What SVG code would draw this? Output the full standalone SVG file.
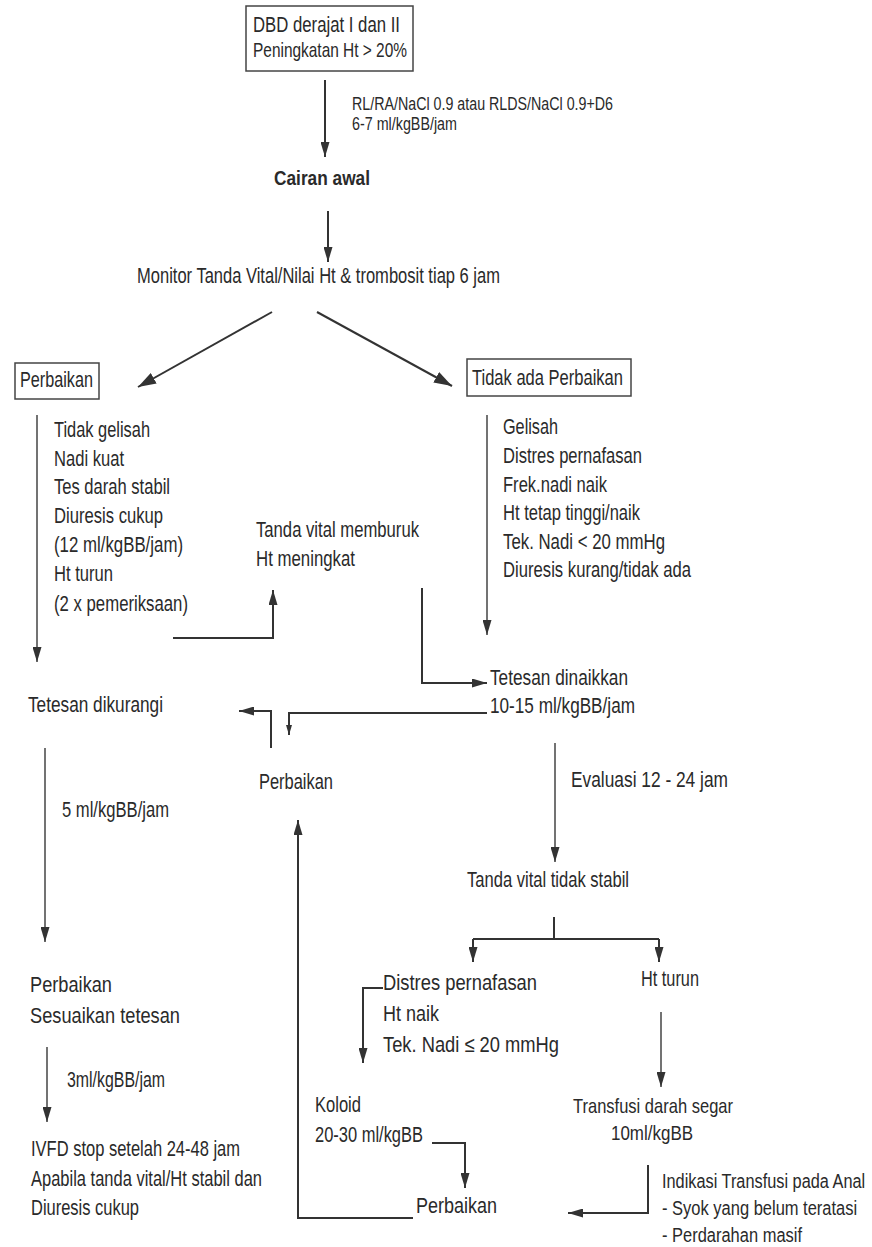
<svg xmlns="http://www.w3.org/2000/svg" width="872" height="1247" viewBox="0 0 872 1247">
  <style>
    text { font-family: "Liberation Sans Narrow", "Liberation Sans", Arial, sans-serif; font-size: 22px; fill: #2a2a2a; }
    .sm { font-size: 17.5px; }
    .md { font-size: 21px; }
    .b { font-weight: bold; font-size: 20px; }
    .box { fill: none; stroke: #444; stroke-width: 1.5; }
    .ln { fill: none; stroke: #333; stroke-width: 2; }
    .thin { fill: none; stroke: #444; stroke-width: 1.5; }
  </style>
  <defs>
    <marker id="ah" viewBox="0 0 15 9" refX="15" refY="4.5" markerWidth="15" markerHeight="9" markerUnits="userSpaceOnUse" orient="auto">
      <path d="M0,0 L15,4.5 L0,9 z" fill="#333"/>
    </marker>
    <marker id="ahb" viewBox="0 0 18 12" refX="18" refY="6" markerWidth="18" markerHeight="12" markerUnits="userSpaceOnUse" orient="auto">
      <path d="M0,0 L18,6 L0,12 z" fill="#333"/>
    </marker>
    <marker id="ahs" viewBox="0 0 10 6" refX="10" refY="3" markerWidth="10" markerHeight="6" markerUnits="userSpaceOnUse" orient="auto">
      <path d="M0,0 L10,3 L0,6 z" fill="#333"/>
    </marker>
  </defs>

  <!-- connectors -->
  <g id="connectors">
    <line class="ln" x1="325" y1="80" x2="325" y2="157" marker-end="url(#ah)"/>
    <line class="ln" x1="328" y1="211" x2="328" y2="262" marker-end="url(#ah)"/>
    <line class="ln" x1="272" y1="312" x2="138" y2="387" stroke-width="2.5" marker-end="url(#ahb)"/>
    <line class="ln" x1="317" y1="312" x2="452" y2="386" stroke-width="2.5" marker-end="url(#ahb)"/>
    <line class="thin" x1="37" y1="415" x2="37" y2="662" marker-end="url(#ah)"/>
    <line class="thin" x1="487" y1="415" x2="487" y2="635" marker-end="url(#ah)"/>
    <polyline class="ln" points="173,638 273,638 273,590" marker-end="url(#ah)"/>
    <polyline class="ln" points="422,588 422,683 487,683" marker-end="url(#ah)"/>
    <polyline class="ln" points="487,713 289,713 289,735" marker-end="url(#ahs)"/>
    <polyline class="ln" points="271,748 271,711 239,711" marker-end="url(#ah)"/>
    <line class="thin" x1="45" y1="748" x2="45" y2="942" marker-end="url(#ah)"/>
    <line class="thin" x1="47" y1="1047" x2="47" y2="1122" marker-end="url(#ah)"/>
    <line class="thin" x1="555" y1="743" x2="555" y2="862" marker-end="url(#ah)"/>
    <line class="ln" x1="554" y1="917" x2="554" y2="939"/>
    <line class="ln" x1="473" y1="939" x2="659" y2="939"/>
    <line class="ln" x1="473" y1="939" x2="473" y2="962" marker-end="url(#ah)"/>
    <line class="ln" x1="659" y1="939" x2="659" y2="962" marker-end="url(#ah)"/>
    <polyline class="ln" points="383,988 363,988 363,1063" marker-end="url(#ah)"/>
    <line class="thin" x1="661" y1="1012" x2="661" y2="1087" marker-end="url(#ah)"/>
    <polyline class="ln" points="432,1143 465,1143 465,1188" marker-end="url(#ah)"/>
    <polyline class="ln" points="413,1218 298,1218 298,820" marker-end="url(#ah)"/>
    <polyline class="ln" points="648,1165 648,1213 568,1213" marker-end="url(#ah)"/>
  </g>

  <!-- nodes -->
  <g id="start">
    <rect class="box" x="246" y="6" width="167" height="65"/>
    <text x="253" y="32" textLength="147" lengthAdjust="spacingAndGlyphs">DBD derajat I dan II</text>
    <text class="md" x="253" y="57" textLength="154" lengthAdjust="spacingAndGlyphs">Peningkatan Ht &gt; 20%</text>
  </g>
  <g id="fluid-label">
    <text class="sm" x="352" y="110" textLength="261" lengthAdjust="spacingAndGlyphs">RL/RA/NaCl 0.9 atau RLDS/NaCl 0.9+D6</text>
    <text class="sm" x="352" y="130" textLength="105" lengthAdjust="spacingAndGlyphs">6-7 ml/kgBB/jam</text>
  </g>
  <g id="cairan-awal">
    <text class="b" x="274" y="185" textLength="96" lengthAdjust="spacingAndGlyphs">Cairan awal</text>
  </g>
  <g id="monitor">
    <text x="137" y="283" textLength="363" lengthAdjust="spacingAndGlyphs">Monitor Tanda Vital/Nilai Ht &amp; trombosit tiap 6 jam</text>
  </g>
  <g id="perbaikan-box">
    <rect class="box" x="15" y="363" width="84" height="36"/>
    <text x="20" y="387" textLength="73" lengthAdjust="spacingAndGlyphs">Perbaikan</text>
  </g>
  <g id="tidak-ada-perbaikan-box">
    <rect class="box" x="467" y="359" width="164" height="37"/>
    <text x="472" y="385" textLength="151" lengthAdjust="spacingAndGlyphs">Tidak ada Perbaikan</text>
  </g>
  <g id="signs-improved">
    <text x="54" y="437" textLength="96" lengthAdjust="spacingAndGlyphs">Tidak gelisah</text>
    <text x="54" y="466" textLength="70" lengthAdjust="spacingAndGlyphs">Nadi kuat</text>
    <text x="54" y="494" textLength="116" lengthAdjust="spacingAndGlyphs">Tes darah stabil</text>
    <text x="54" y="523" textLength="109" lengthAdjust="spacingAndGlyphs">Diuresis cukup</text>
    <text x="54" y="552" textLength="129" lengthAdjust="spacingAndGlyphs">(12 ml/kgBB/jam)</text>
    <text x="54" y="581" textLength="59" lengthAdjust="spacingAndGlyphs">Ht turun</text>
    <text x="54" y="611" textLength="134" lengthAdjust="spacingAndGlyphs">(2 x pemeriksaan)</text>
  </g>
  <g id="worsening">
    <text x="256" y="537" textLength="163" lengthAdjust="spacingAndGlyphs">Tanda vital memburuk</text>
    <text x="256" y="566" textLength="99" lengthAdjust="spacingAndGlyphs">Ht meningkat</text>
  </g>
  <g id="signs-not-improved">
    <text x="503" y="434" textLength="55" lengthAdjust="spacingAndGlyphs">Gelisah</text>
    <text x="503" y="463" textLength="139" lengthAdjust="spacingAndGlyphs">Distres pernafasan</text>
    <text x="503" y="492" textLength="104" lengthAdjust="spacingAndGlyphs">Frek.nadi naik</text>
    <text x="503" y="520" textLength="137" lengthAdjust="spacingAndGlyphs">Ht tetap tinggi/naik</text>
    <text x="503" y="549" textLength="162" lengthAdjust="spacingAndGlyphs">Tek. Nadi &lt; 20 mmHg</text>
    <text x="503" y="577" textLength="188" lengthAdjust="spacingAndGlyphs">Diuresis kurang/tidak ada</text>
  </g>
  <g id="tetesan-dinaikkan">
    <text x="490" y="685" textLength="138" lengthAdjust="spacingAndGlyphs">Tetesan dinaikkan</text>
    <text x="490" y="713" textLength="145" lengthAdjust="spacingAndGlyphs">10-15 ml/kgBB/jam</text>
  </g>
  <g id="tetesan-dikurangi">
    <text x="28" y="712" textLength="135" lengthAdjust="spacingAndGlyphs">Tetesan dikurangi</text>
  </g>
  <g id="perbaikan-mid">
    <text x="259" y="789" textLength="74" lengthAdjust="spacingAndGlyphs">Perbaikan</text>
  </g>
  <g id="rate-5">
    <text x="62" y="817" textLength="107" lengthAdjust="spacingAndGlyphs">5 ml/kgBB/jam</text>
  </g>
  <g id="evaluasi">
    <text x="571" y="787" textLength="157" lengthAdjust="spacingAndGlyphs">Evaluasi 12 - 24 jam</text>
  </g>
  <g id="tidak-stabil">
    <text x="467" y="887" textLength="162" lengthAdjust="spacingAndGlyphs">Tanda vital tidak stabil</text>
  </g>
  <g id="sesuaikan">
    <text x="30" y="992" textLength="82" lengthAdjust="spacingAndGlyphs">Perbaikan</text>
    <text x="30" y="1023" textLength="150" lengthAdjust="spacingAndGlyphs">Sesuaikan tetesan</text>
  </g>
  <g id="rate-3">
    <text x="67" y="1087" textLength="98" lengthAdjust="spacingAndGlyphs">3ml/kgBB/jam</text>
  </g>
  <g id="ivfd-stop">
    <text x="31" y="1156" textLength="209" lengthAdjust="spacingAndGlyphs">IVFD stop setelah 24-48 jam</text>
    <text x="31" y="1186" textLength="231" lengthAdjust="spacingAndGlyphs">Apabila tanda vital/Ht stabil dan</text>
    <text x="31" y="1215" textLength="108" lengthAdjust="spacingAndGlyphs">Diuresis cukup</text>
  </g>
  <g id="distres">
    <text x="383" y="990" textLength="154" lengthAdjust="spacingAndGlyphs">Distres pernafasan</text>
    <text x="383" y="1021" textLength="56" lengthAdjust="spacingAndGlyphs">Ht naik</text>
    <text x="383" y="1052" textLength="176" lengthAdjust="spacingAndGlyphs">Tek. Nadi ≤ 20 mmHg</text>
  </g>
  <g id="ht-turun">
    <text x="641" y="986" textLength="58" lengthAdjust="spacingAndGlyphs">Ht turun</text>
  </g>
  <g id="transfusi">
    <text class="md" x="573" y="1113" textLength="160" lengthAdjust="spacingAndGlyphs">Transfusi darah segar</text>
    <text class="md" x="611" y="1140" textLength="82" lengthAdjust="spacingAndGlyphs">10ml/kgBB</text>
  </g>
  <g id="koloid">
    <text x="315" y="1112" textLength="46" lengthAdjust="spacingAndGlyphs">Koloid</text>
    <text x="315" y="1142" textLength="108" lengthAdjust="spacingAndGlyphs">20-30 ml/kgBB</text>
  </g>
  <g id="perbaikan-bottom">
    <text x="416" y="1213" textLength="81" lengthAdjust="spacingAndGlyphs">Perbaikan</text>
  </g>
  <!-- narrow note block, horizontally compressed to fit the right margin -->
  <g id="indikasi" transform="translate(662,0) scale(0.8,1)">
    <text class="md" x="0" y="1188" textLength="254" lengthAdjust="spacingAndGlyphs">Indikasi Transfusi pada Anal</text>
    <text class="md" x="0" y="1215" textLength="244" lengthAdjust="spacingAndGlyphs">- Syok yang belum teratasi</text>
    <text class="md" x="0" y="1242" textLength="175" lengthAdjust="spacingAndGlyphs">- Perdarahan masif</text>
  </g>
</svg>
